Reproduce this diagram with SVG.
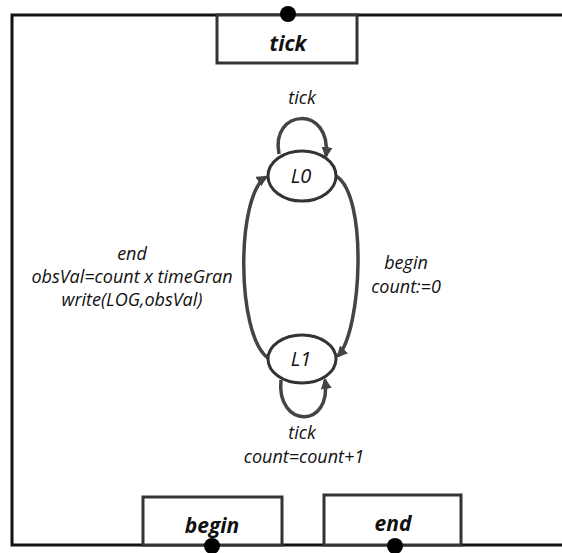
<svg xmlns="http://www.w3.org/2000/svg" width="562" height="553" viewBox="0 0 562 553">
<defs>
<marker id="ah" viewBox="0 0 10 10" refX="8" refY="5" markerWidth="3.2" markerHeight="3.2" orient="auto" markerUnits="strokeWidth">
<path d="M0,0 L10,5 L0,10 z" fill="#444"/>
</marker>
<style>
.frame{fill:none;stroke:#111;stroke-width:3}
.box{fill:#fff;stroke:#333;stroke-width:3}
.port{fill:#000}
.state{fill:#fff;stroke:#333;stroke-width:3}
.edge{fill:none;stroke:#444;stroke-width:3.5;marker-end:url(#ah)}
.lbl{font-family:"Open Sans","Liberation Sans",sans-serif;font-style:italic;font-size:18px;fill:#111;text-anchor:middle}
.slbl{font-family:"Open Sans","Liberation Sans",sans-serif;font-style:italic;font-size:20px;fill:#111;text-anchor:middle}
.blbl{font-family:"Open Sans","Liberation Sans",sans-serif;font-style:italic;font-weight:bold;font-size:21px;fill:#111;text-anchor:middle}
</style>
</defs>
<rect width="562" height="553" fill="#fff"/>
<g id="frame">
<path class="frame" d="M562,15 H12 V545 H562"/>
</g>
<g id="tick-port">
<rect class="box" x="217" y="15" width="140" height="48"/>
<text class="blbl" x="288" y="51">tick</text>
<circle class="port" cx="288" cy="14" r="8"/>
</g>
<g id="begin-port">
<rect class="box" x="143" y="497" width="139" height="48"/>
<text class="blbl" x="212" y="533">begin</text>
<circle class="port" cx="212" cy="546" r="8"/>
</g>
<g id="end-port">
<rect class="box" x="324" y="495" width="137" height="50"/>
<text class="blbl" x="393" y="531">end</text>
<circle class="port" cx="395" cy="546" r="8"/>
</g>
<g id="connectors">
<path class="edge" d="M279,154 C270,108 332,105 326,156"/>
<text class="lbl" x="302" y="104">tick</text>
<path class="edge" d="M281,380 C276,428 332,430 325,380"/>
<text class="lbl" x="302" y="439">tick</text>
<text class="lbl" x="304" y="463">count=count+1</text>
<path class="edge" d="M336,176 C368,195 362,330 338,356"/>
<text class="lbl" x="406" y="269">begin</text>
<text class="lbl" x="406" y="293">count:=0</text>
<path class="edge" d="M268,358 C236,335 236,195 266,177"/>
<text class="lbl" x="132" y="260">end</text>
<text class="lbl" x="132" y="283">obsVal=count x timeGran</text>
<text class="lbl" x="132" y="306">write(LOG,obsVal)</text>
</g>
<g id="L0">
<ellipse class="state" cx="302" cy="176" rx="34" ry="25"/>
<text class="slbl" x="301" y="183">L0</text>
</g>
<g id="L1">
<ellipse class="state" cx="302" cy="359" rx="34" ry="24"/>
<text class="slbl" x="301" y="366">L1</text>
</g>
</svg>
